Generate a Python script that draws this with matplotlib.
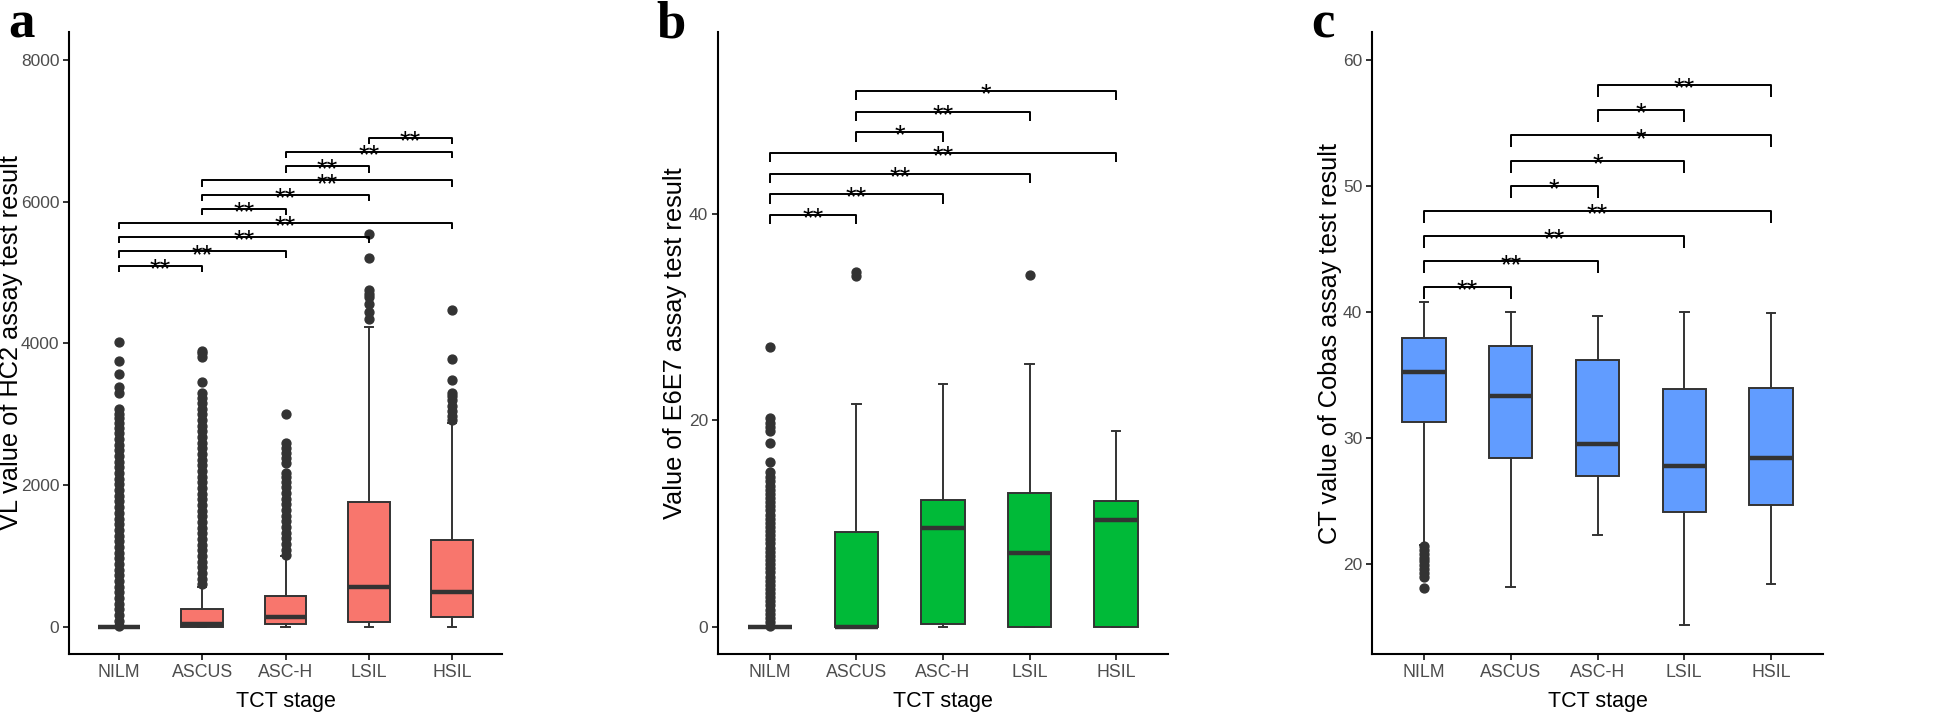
import matplotlib
matplotlib.use("Agg")
import matplotlib.pyplot as plt
from matplotlib.transforms import offset_copy

plt.rcParams['font.family'] = ['Liberation Sans', 'DejaVu Sans']

# ---------------- data ----------------
categories = ["NILM", "ASCUS", "ASC-H", "LSIL", "HSIL"]

# Panel a: VL value of HC2 assay
a_q1 = [0, 0, 38, 66, 136]
a_med = [0, 42, 145, 560, 498]
a_q3 = [0, 250, 437, 1768, 1227]
a_lo = [0, 0, 0, 0, 0]
a_hi = [0, 569, 1001, 4236, 2873]
a_out_nilm = [20, 90, 170, 250, 330, 410, 490, 570, 650, 730, 810, 890, 970,
              1050, 1130, 1210, 1290, 1370, 1450, 1530, 1610, 1690, 1770, 1850,
              1930, 2010, 2090, 2170, 2250, 2330, 2410, 2490, 2570, 2650, 2730,
              2810, 2880, 2950, 3010, 3080, 3300, 3390, 3570, 3750, 4020]
a_out_ascus = [600, 680, 760, 840, 920, 1000, 1080, 1160, 1240, 1320, 1400,
               1480, 1560, 1640, 1720, 1800, 1880, 1960, 2040, 2120, 2200, 2280,
               2360, 2440, 2520, 2600, 2680, 2760, 2840, 2920, 3000, 3080, 3160,
               3230, 3300, 3460, 3810, 3860, 3900]
a_out_asch = [1010, 1090, 1170, 1250, 1330, 1410, 1490, 1570, 1650, 1730, 1810,
              1890, 1970, 2050, 2120, 2170, 2310, 2390, 2460, 2530, 2590, 3000]
a_out_lsil = [4350, 4450, 4550, 4660, 4700, 4750, 5200, 5550]
a_out_hsil = [2920, 2980, 3050, 3120, 3200, 3260, 3300, 3490, 3780, 4470]
a_pairs = [("NILM", "ASCUS"), ("NILM", "ASC-H"), ("NILM", "LSIL"), ("NILM", "HSIL"),
           ("ASCUS", "ASC-H"), ("ASCUS", "LSIL"), ("ASCUS", "HSIL"),
           ("ASC-H", "LSIL"), ("ASC-H", "HSIL"), ("LSIL", "HSIL")]
a_levels = [5100, 5300, 5500, 5700, 5900, 6100, 6300, 6500, 6700, 6900]
a_signif = ["**", "**", "**", "**", "**", "**", "**", "**", "**", "**"]
a_yticks = [0, 2000, 4000, 6000, 8000]

# Panel b: Value of E6E7 assay
b_q1 = [0, 0, 0.29, 0, 0]
b_med = [0, 0, 9.6, 7.2, 10.36]
b_q3 = [0, 9.17, 12.3, 13.0, 12.2]
b_lo = [0, 0, 0, 0, 0]
b_hi = [0, 21.6, 23.5, 25.5, 19.0]
b_out_nilm = [0.1, 0.5, 0.9, 1.3, 1.7, 2.1, 2.5, 2.9, 3.3, 3.7, 4.1, 4.5, 4.9,
              5.3, 5.7, 6.1, 6.5, 6.9, 7.3, 7.7, 8.1, 8.5, 8.9, 9.3, 9.7, 10.1,
              10.5, 10.9, 11.3, 11.7, 12.1, 12.5, 12.9, 13.3, 13.7, 14.1, 14.5,
              15.0, 16.0, 17.8, 19.0, 19.4, 19.8, 20.2, 27.1]
b_out_ascus = [34.0, 34.4]
b_out_asch = []
b_out_lsil = [34.1]
b_out_hsil = []
b_pairs = [("NILM", "ASCUS"), ("NILM", "ASC-H"), ("NILM", "LSIL"), ("NILM", "HSIL"),
           ("ASCUS", "ASC-H"), ("ASCUS", "LSIL"), ("ASCUS", "HSIL")]
b_levels = [39.9, 41.9, 43.9, 45.9, 47.9, 49.9, 51.9]
b_signif = ["**", "**", "**", "**", "*", "**", "*"]
b_yticks = [0, 20, 40]

# Panel c: CT value of Cobas assay
c_q1 = [31.3, 28.4, 27.0, 24.1, 24.7]
c_med = [35.2, 33.3, 29.5, 27.8, 28.4]
c_q3 = [37.9, 37.3, 36.2, 33.9, 34.0]
c_lo = [21.5, 18.15, 22.3, 15.2, 18.4]
c_hi = [40.8, 40.0, 39.7, 40.0, 39.9]
c_out_nilm = [21.4, 21.1, 20.8, 20.5, 20.2, 19.9, 19.6, 19.3, 19.0, 18.1]
c_out_ascus = []
c_out_asch = []
c_out_lsil = []
c_out_hsil = []
c_pairs = [("NILM", "ASCUS"), ("NILM", "ASC-H"), ("NILM", "LSIL"), ("NILM", "HSIL"),
           ("ASCUS", "ASC-H"), ("ASCUS", "LSIL"), ("ASCUS", "HSIL"),
           ("ASC-H", "LSIL"), ("ASC-H", "HSIL")]
c_levels = [42.0, 44.0, 46.0, 48.0, 50.0, 52.0, 54.0, 56.0, 58.0]
c_signif = ["**", "**", "**", "**", "*", "*", "*", "*", "**"]
c_yticks = [20, 30, 40, 50, 60]

# ---------------- figure ----------------
W, H = 1960, 716
fig = plt.figure(figsize=(W / 100, H / 100), dpi=100)

EDGE = "#333333"
TICKC = "#4D4D4D"


def panel(rect, q1, med, q3, lo, hi, outs, color, ylim, yticks, ylabel,
          pairs, levels, signif, tip, letter, letter_x, ylab_x):
    ax = fig.add_axes(rect)
    stats = []
    for i in range(len(categories)):
        stats.append(dict(q1=q1[i], med=med[i], q3=q3[i], whislo=lo[i],
                          whishi=hi[i], fliers=outs[i]))
    pos = list(range(1, len(categories) + 1))
    ax.bxp(stats, positions=pos, widths=0.5, patch_artist=True,
           showcaps=True, capwidths=0.1,
           boxprops=dict(facecolor=color, edgecolor=EDGE, linewidth=1.4),
           medianprops=dict(color=EDGE, linewidth=3.2, solid_capstyle='butt'),
           whiskerprops=dict(color=EDGE, linewidth=1.4),
           capprops=dict(color=EDGE, linewidth=1.4),
           flierprops=dict(marker='o', markerfacecolor=EDGE, markeredgecolor=EDGE,
                           markersize=6.4, linestyle='none'))
    ax.set_xlim(0.4, len(categories) + 0.6)
    ax.set_ylim(*ylim)
    ax.set_xticks(pos)
    ax.set_xticklabels(categories)
    ax.set_yticks(yticks)
    ax.set_yticklabels([str(t) for t in yticks])
    for s in ["top", "right"]:
        ax.spines[s].set_visible(False)
    for s in ["left", "bottom"]:
        ax.spines[s].set_linewidth(1.5)
        ax.spines[s].set_color("black")
    ax.tick_params(axis='both', length=4, width=1.3, color="#222222",
                   labelcolor=TICKC, pad=3)
    ax.tick_params(axis='x', labelsize=12.8)
    ax.tick_params(axis='y', labelsize=12.5)
    ax.set_xlabel("TCT stage", fontsize=15.5, color="black")
    ax.xaxis.set_label_coords(0.5, -48 / (rect[3] * H))
    ax.xaxis.label.set_va('center')
    ax.set_ylabel(ylabel, fontsize=18.3, color="black")
    ax.yaxis.set_label_coords(ylab_x, 0.5)
    ax.yaxis.label.set_va('center')

    star_tr = offset_copy(ax.transData, fig=fig, x=0, y=-8.2, units='points')
    for (c1, c2), yv, lab in zip(pairs, levels, signif):
        x1 = categories.index(c1) + 1
        x2 = categories.index(c2) + 1
        ax.plot([x1, x1, x2, x2], [yv - tip, yv, yv, yv - tip], color="black",
                linewidth=1.4, solid_capstyle='butt', zorder=5)
        ax.text((x1 + x2) / 2, yv, lab, ha='center', va='baseline', fontsize=19.5,
                color="black", transform=star_tr, zorder=6)

    fig.text(letter_x, (H - 37) / H, letter, fontsize=38, fontweight='bold',
             family='Liberation Serif', ha='left', va='baseline')
    return ax


top = (H - 32) / H
bot = (H - 654) / H
hgt = top - bot

panel([69 / W, bot, (502 - 69) / W, hgt], a_q1, a_med, a_q3, a_lo, a_hi,
      [a_out_nilm, a_out_ascus, a_out_asch, a_out_lsil, a_out_hsil],
      "#F8766D", (-382, 8395), a_yticks, "VL value of HC2 assay test result",
      a_pairs, a_levels, a_signif, 88, "a", 8 / W, -0.135)

panel([718 / W, bot, (1168 - 718) / W, hgt], b_q1, b_med, b_q3, b_lo, b_hi,
      [b_out_nilm, b_out_ascus, b_out_asch, b_out_lsil, b_out_hsil],
      "#00BA38", (-2.6, 57.6), b_yticks, "Value of E6E7 assay test result",
      b_pairs, b_levels, b_signif, 0.9, "b", 656 / W, -0.095)

panel([1372 / W, bot, (1823 - 1372) / W, hgt], c_q1, c_med, c_q3, c_lo, c_hi,
      [c_out_nilm, c_out_ascus, c_out_asch, c_out_lsil, c_out_hsil],
      "#619CFF", (12.86, 62.2), c_yticks, "CT value of Cobas assay test result",
      c_pairs, c_levels, c_signif, 0.95, "c", 1311 / W, -0.093)

fig.savefig("out.png", dpi=100, facecolor="white")
